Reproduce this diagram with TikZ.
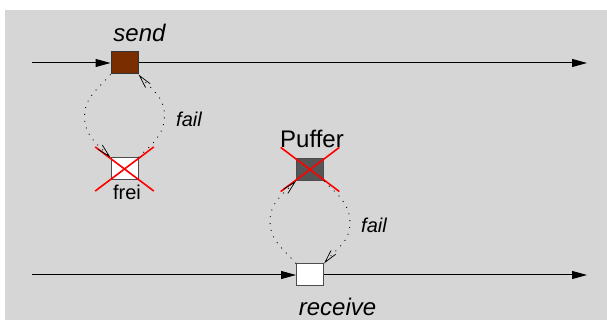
\documentclass[tikz,border=0pt]{standalone}
\usepackage{fontspec}
\setmainfont{Liberation Sans}
\usetikzlibrary{arrows.meta,shapes.misc}
\definecolor{panel}{RGB}{214,214,214}
\definecolor{sendbrown}{RGB}{122,46,0}
\definecolor{bufgray}{RGB}{85,85,85}

\begin{document}
\begin{tikzpicture}[x=1pt, y=1pt,
    box/.style={draw=black!70, line width=1pt, minimum width=27pt, minimum height=22pt, inner sep=0pt},
    flow/.style={line width=1pt, -{Triangle[length=15pt,width=8pt]}},
    retry/.style={line width=0.9pt, dash pattern=on 0.9pt off 6pt,
                  -{Straight Barb[length=13pt,width=6pt,line width=0.7pt]}},
    crossed/.style={cross out, draw=red, line width=1.6pt, minimum width=57pt, minimum height=42.5pt, inner sep=0pt},
    big/.style={font=\fontsize{24}{24}\selectfont, anchor=base},
    small/.style={font=\fontsize{20}{20}\selectfont, anchor=base}]
        \useasboundingbox (0,0) rectangle (607,320);
        \fill[white] (0,0) rectangle (607,320);
        \fill[panel] (5,0) rectangle (607,310);

        % sender side
        \node[box, fill=sendbrown, draw=black!80] (send) at (124.5,257) {};
        \node[box, fill=white] (frei) at (124.5,151) {};
        \node[crossed] (freiX) at (frei) {};
        \coordinate (sendin) at (32,257);
        \coordinate (sendout) at (587,257);
        \draw[flow] (sendin) -- (send.west);
        \draw[flow] (send.east) -- (sendout);
        \draw[retry] (send.south west) to[out=230, in=90] ++(-26,-42)
                                       to[out=270, in=135] (frei.north west);
        \draw[retry] (frei.north east) to[out=45, in=270] ++(26,42)
                                       to[out=90, in=310] (send.south east);

        % receiver side
        \node[box, fill=white] (receive) at (310,45) {};
        \node[box, fill=bufgray] (puffer) at (310,150.5) {};
        \node[crossed] (pufferX) at (puffer) {};
        \coordinate (recvin) at (32,45);
        \coordinate (recvout) at (587,45);
        \draw[flow] (recvin) -- (receive.west);
        \draw[flow] (receive.east) -- (recvout);
        \draw[retry] (receive.north west) to[out=130, in=270] ++(-26,42)
                                          to[out=90, in=225] (puffer.south west);
        \draw[retry] (puffer.south east) to[out=315, in=90] ++(26,-42)
                                         to[out=270, in=50] (receive.north east);

        % labels
        \node[big, font=\fontsize{24}{24}\selectfont\itshape] at (139.5,278) {send};
        \node[small] at (127,120) {frei};
        \node[small, font=\fontsize{20}{20}\selectfont\itshape] at (189,193) {fail};
        \node[big] at (312,172.7) {Puffer};
        \node[small, font=\fontsize{20}{20}\selectfont\itshape] at (374,87.3) {fail};
        \node[big, font=\fontsize{24}{24}\selectfont\itshape] at (337.5,4.5) {receive};
\end{tikzpicture}
\end{document}
